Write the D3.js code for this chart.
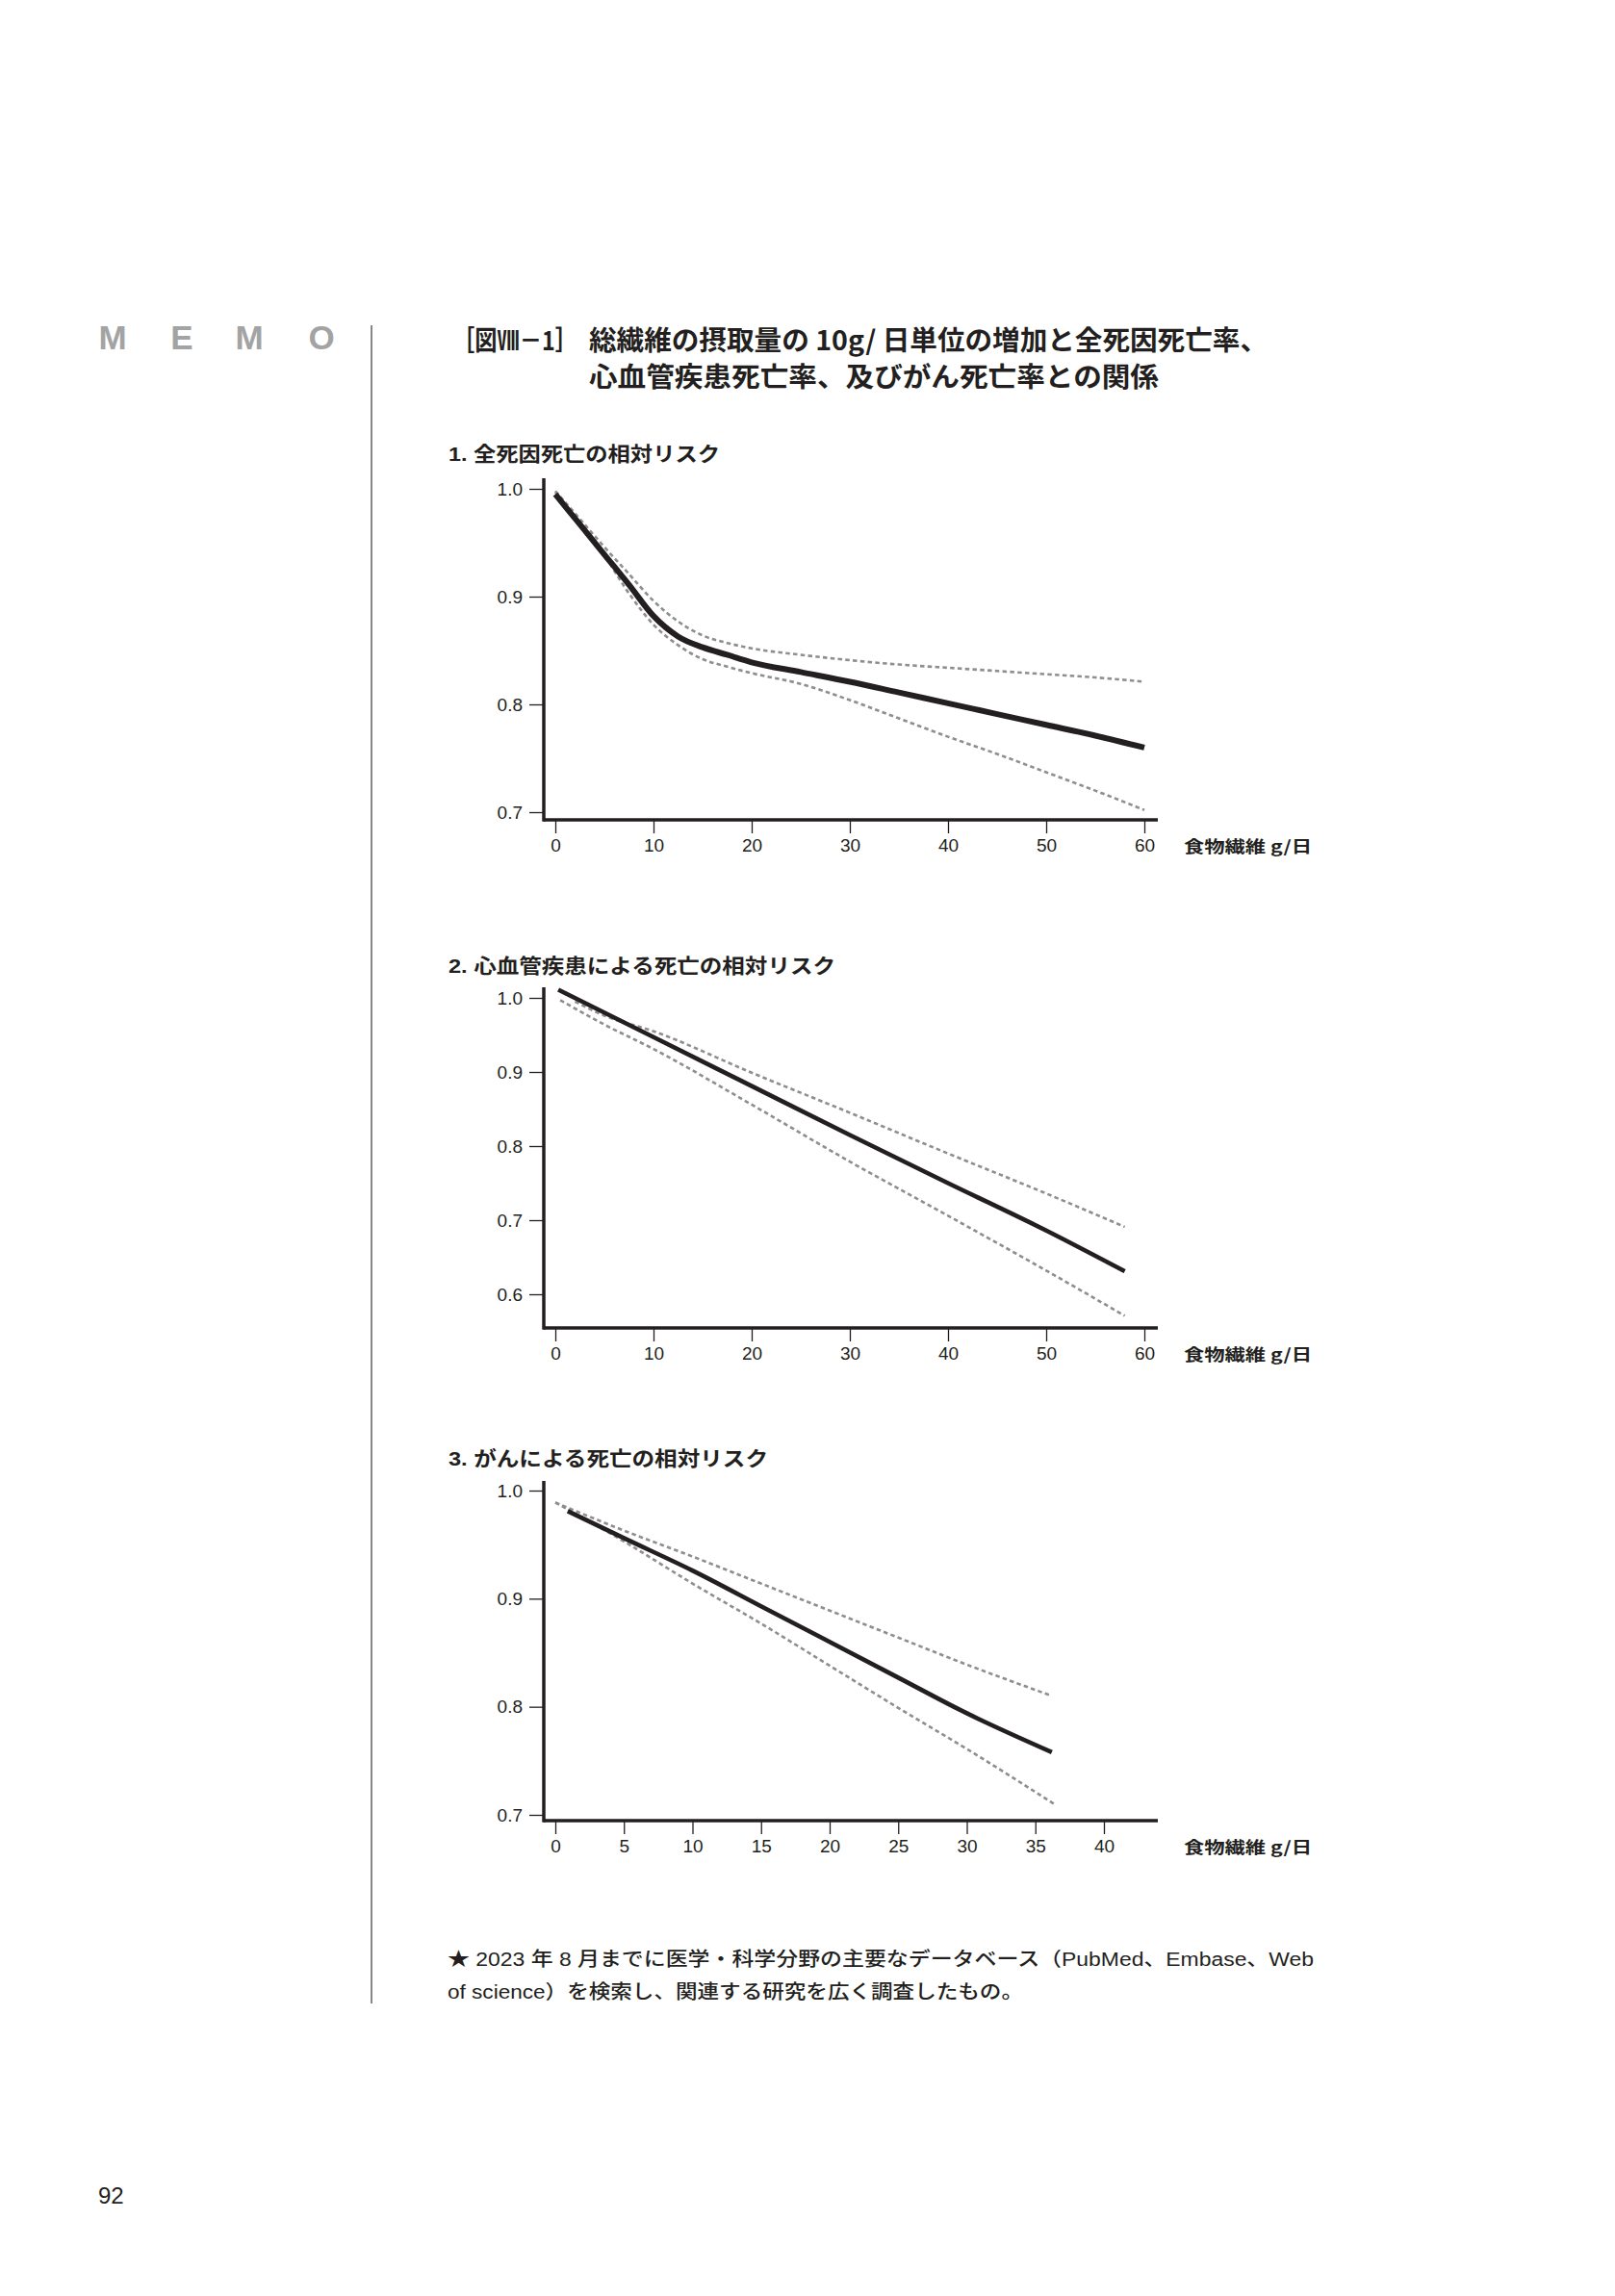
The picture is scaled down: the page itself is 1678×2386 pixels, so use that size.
<!doctype html>
<html>
<head>
<meta charset="utf-8" />
<title>総繊維の摂取量と死亡率</title>
<script src="https://cdn.jsdelivr.net/npm/d3@7"></script>
<style>
  body { margin: 0; background: #fff; }
  text { fill: #231f20; }
</style>
</head>
<body>
<script>
// ---- data ----
// 1. all-cause mortality
var fiber1      = [0, 2.5, 5, 7.5, 10, 12.5, 15, 17.5, 20, 25, 30, 35, 40, 45, 50, 55, 60];
var rr1         = [0.995, 0.967, 0.939, 0.911, 0.882, 0.863, 0.853, 0.846, 0.839, 0.830, 0.821, 0.811, 0.801, 0.791, 0.781, 0.771, 0.760];
var rr1Upper    = [0.998, 0.972, 0.946, 0.921, 0.896, 0.877, 0.864, 0.857, 0.852, 0.846, 0.841, 0.837, 0.834, 0.831, 0.828, 0.825, 0.821];
var rr1Lower    = [0.997, 0.968, 0.938, 0.903, 0.874, 0.855, 0.842, 0.835, 0.829, 0.819, 0.804, 0.787, 0.770, 0.754, 0.737, 0.720, 0.702];

// 2. cardiovascular mortality
var fiber2      = [0.3, 10, 20, 30, 40, 50, 58];
var rr2         = [1.011, 0.947, 0.881, 0.815, 0.750, 0.686, 0.631];
var fiber2Upper = [2, 5, 10, 20, 30, 40, 50, 58];
var rr2Upper    = [0.995, 0.976, 0.955, 0.899, 0.845, 0.790, 0.736, 0.691];
var fiber2Lower = [0.5, 5, 10, 20, 30, 40, 50, 58];
var rr2Lower    = [0.997, 0.964, 0.931, 0.856, 0.779, 0.706, 0.632, 0.571];

// 3. cancer mortality
var fiber3      = [0.9, 5, 10, 15, 20, 25, 30, 36.2];
var rr3         = [0.981, 0.956, 0.926, 0.893, 0.860, 0.827, 0.794, 0.758];
var fiber3Upper = [0, 5, 10, 15, 20, 25, 30, 36];
var rr3Upper    = [0.989, 0.963, 0.939, 0.914, 0.889, 0.864, 0.839, 0.811];
var fiber3Lower = [0, 5, 10, 15, 20, 25, 30, 36.5];
var rr3Lower    = [0.989, 0.953, 0.914, 0.877, 0.838, 0.799, 0.761, 0.709];

// tick labels
var xTicks60 = [0, 10, 20, 30, 40, 50, 60];
var xTicks40 = [0, 5, 10, 15, 20, 25, 30, 35, 40];
var yTicks1  = [0.7, 0.8, 0.9, 1.0];
var yTicks2  = [0.6, 0.7, 0.8, 0.9, 1.0];
var yTicks3  = [0.7, 0.8, 0.9, 1.0];

var panelTitles = ["1. 全死因死亡の相対リスク", "2. 心血管疾患による死亡の相対リスク", "3. がんによる死亡の相対リスク"];
var xAxisTitle = "食物繊維 g/日";

// ---- page ----
var W = 1678, H = 2386;
var ink = "#231f20";
var jp = "'Noto Sans CJK JP', sans-serif";
var num = "'Liberation Sans', 'Noto Sans CJK JP', sans-serif";

var svg = d3.select("body").append("svg")
    .attr("width", W)
    .attr("height", H);

// MEMO column
svg.selectAll(".memo")
    .data(["M", "E", "M", "O"])
    .enter().append("text")
    .attr("class", "memo")
    .attr("x", function(d, i){ return [117, 189, 259, 334][i]; })
    .attr("y", 363)
    .attr("text-anchor", "middle")
    .attr("font-family", num)
    .attr("font-weight", 700)
    .attr("font-size", 35)
    .style("fill", "#a3a3a3")
    .text(function(d){ return d; });

svg.append("line")
    .attr("x1", 386).attr("x2", 386)
    .attr("y1", 338).attr("y2", 2082)
    .attr("stroke", "#555").attr("stroke-width", 1.4);

svg.append("text")
    .attr("x", 102).attr("y", 2290)
    .attr("font-family", num).attr("font-size", 24)
    .text("92");

// figure title
svg.append("text")
    .attr("x", 470).attr("y", 364)
    .attr("font-family", jp).attr("font-weight", 700).attr("font-size", 28)
    .attr("textLength", 130).attr("lengthAdjust", "spacingAndGlyphs")
    .text("［図Ⅷ－1］");
svg.append("text")
    .attr("x", 612).attr("y", 364)
    .attr("font-family", jp).attr("font-weight", 700).attr("font-size", 28)
    .attr("textLength", 705).attr("lengthAdjust", "spacingAndGlyphs")
    .text("総繊維の摂取量の 10g/ 日単位の増加と全死因死亡率、");
svg.append("text")
    .attr("x", 612).attr("y", 402)
    .attr("font-family", jp).attr("font-weight", 700).attr("font-size", 28)
    .attr("textLength", 592).attr("lengthAdjust", "spacingAndGlyphs")
    .text("心血管疾患死亡率、及びがん死亡率との関係");

// ---- panels ----
var draw_panel = function(cfg){
    var g = svg.append("g");

    var x = d3.scaleLinear().domain(cfg.xDomain).range([577, cfg.xEnd]);
    var y = d3.scaleLinear().domain([cfg.yTicks[0], 1.0]).range([cfg.yBottom, cfg.yTop]);

    g.append("text")
        .attr("x", 466).attr("y", cfg.titleY)
        .attr("font-family", num).attr("font-weight", 700).attr("font-size", 21)
        .attr("textLength", cfg.titleLen).attr("lengthAdjust", "spacingAndGlyphs")
        .text(cfg.title);

    // y axis ticks + labels
    var ya = g.append("g")
        .attr("transform", "translate(565,0)")
        .call(d3.axisLeft(y).tickValues(cfg.yTicks).tickSize(15).tickPadding(7)
              .tickFormat(d3.format(".1f")));
    ya.select(".domain").remove();
    ya.selectAll("line").attr("stroke", ink).attr("stroke-width", 1.3);
    ya.selectAll("text").attr("font-family", num).attr("font-size", 19).style("fill", ink);

    // x axis ticks + labels
    var xa = g.append("g")
        .attr("transform", "translate(0," + cfg.axisY + ")")
        .call(d3.axisBottom(x).tickValues(cfg.xTicks).tickSize(14).tickPadding(6));
    xa.select(".domain").remove();
    xa.selectAll("line").attr("stroke", ink).attr("stroke-width", 1.3);
    xa.selectAll("text").attr("font-family", num).attr("font-size", 19).style("fill", ink);

    // heavy axis lines
    g.append("line")
        .attr("x1", 565).attr("x2", 565)
        .attr("y1", cfg.axisTop).attr("y2", cfg.axisY + 1.75)
        .attr("stroke", ink).attr("stroke-width", 3.5);
    g.append("line")
        .attr("x1", 565).attr("x2", 1203)
        .attr("y1", cfg.axisY).attr("y2", cfg.axisY)
        .attr("stroke", ink).attr("stroke-width", 3.5);

    g.append("text")
        .attr("x", 1230).attr("y", cfg.axisY + 34)
        .attr("font-family", jp).attr("font-weight", 700).attr("font-size", 17)
        .attr("textLength", 133).attr("lengthAdjust", "spacingAndGlyphs")
        .text(xAxisTitle);

    var line = d3.line()
        .x(function(d){ return x(d[0]); })
        .y(function(d){ return y(d[1]); })
        .curve(d3.curveMonotoneX);

    [cfg.upper, cfg.lower].forEach(function(ci){
        g.append("path")
            .datum(d3.zip(ci[0], ci[1]))
            .attr("d", line)
            .attr("fill", "none")
            .attr("stroke", "#8e8e8e")
            .attr("stroke-width", 2.6)
            .attr("stroke-dasharray", "4.5,3.3");
    });

    g.append("path")
        .datum(d3.zip(cfg.main[0], cfg.main[1]))
        .attr("d", line)
        .attr("fill", "none")
        .attr("stroke", ink)
        .attr("stroke-width", cfg.mainWidth);
};

draw_panel({
    title: panelTitles[0], titleY: 479, titleLen: 282,
    xDomain: [0, 60], xEnd: 1189, xTicks: xTicks60,
    yTicks: yTicks1, yBottom: 844, yTop: 508, axisTop: 497, axisY: 852,
    main: [fiber1, rr1], upper: [fiber1, rr1Upper], lower: [fiber1, rr1Lower],
    mainWidth: 6
});

draw_panel({
    title: panelTitles[1], titleY: 1011, titleLen: 402,
    xDomain: [0, 60], xEnd: 1189, xTicks: xTicks60,
    yTicks: yTicks2, yBottom: 1345, yTop: 1037, axisTop: 1026, axisY: 1380,
    main: [fiber2, rr2], upper: [fiber2Upper, rr2Upper], lower: [fiber2Lower, rr2Lower],
    mainWidth: 4.6
});

draw_panel({
    title: panelTitles[2], titleY: 1523, titleLen: 332,
    xDomain: [0, 40], xEnd: 1147, xTicks: xTicks40,
    yTicks: yTicks3, yBottom: 1886, yTop: 1549, axisTop: 1539, axisY: 1892,
    main: [fiber3, rr3], upper: [fiber3Upper, rr3Upper], lower: [fiber3Lower, rr3Lower],
    mainWidth: 4.6
});

// footnote
svg.append("text")
    .attr("x", 465).attr("y", 2043)
    .attr("font-family", num).attr("font-weight", 500).attr("font-size", 20)
    .attr("textLength", 900).attr("lengthAdjust", "spacingAndGlyphs")
    .text("★ 2023 年 8 月までに医学・科学分野の主要なデータベース（PubMed、Embase、Web");
svg.append("text")
    .attr("x", 465).attr("y", 2077)
    .attr("font-family", num).attr("font-weight", 500).attr("font-size", 20)
    .attr("textLength", 598).attr("lengthAdjust", "spacingAndGlyphs")
    .text("of science）を検索し、関連する研究を広く調査したもの。");
</script>
</body>
</html>
